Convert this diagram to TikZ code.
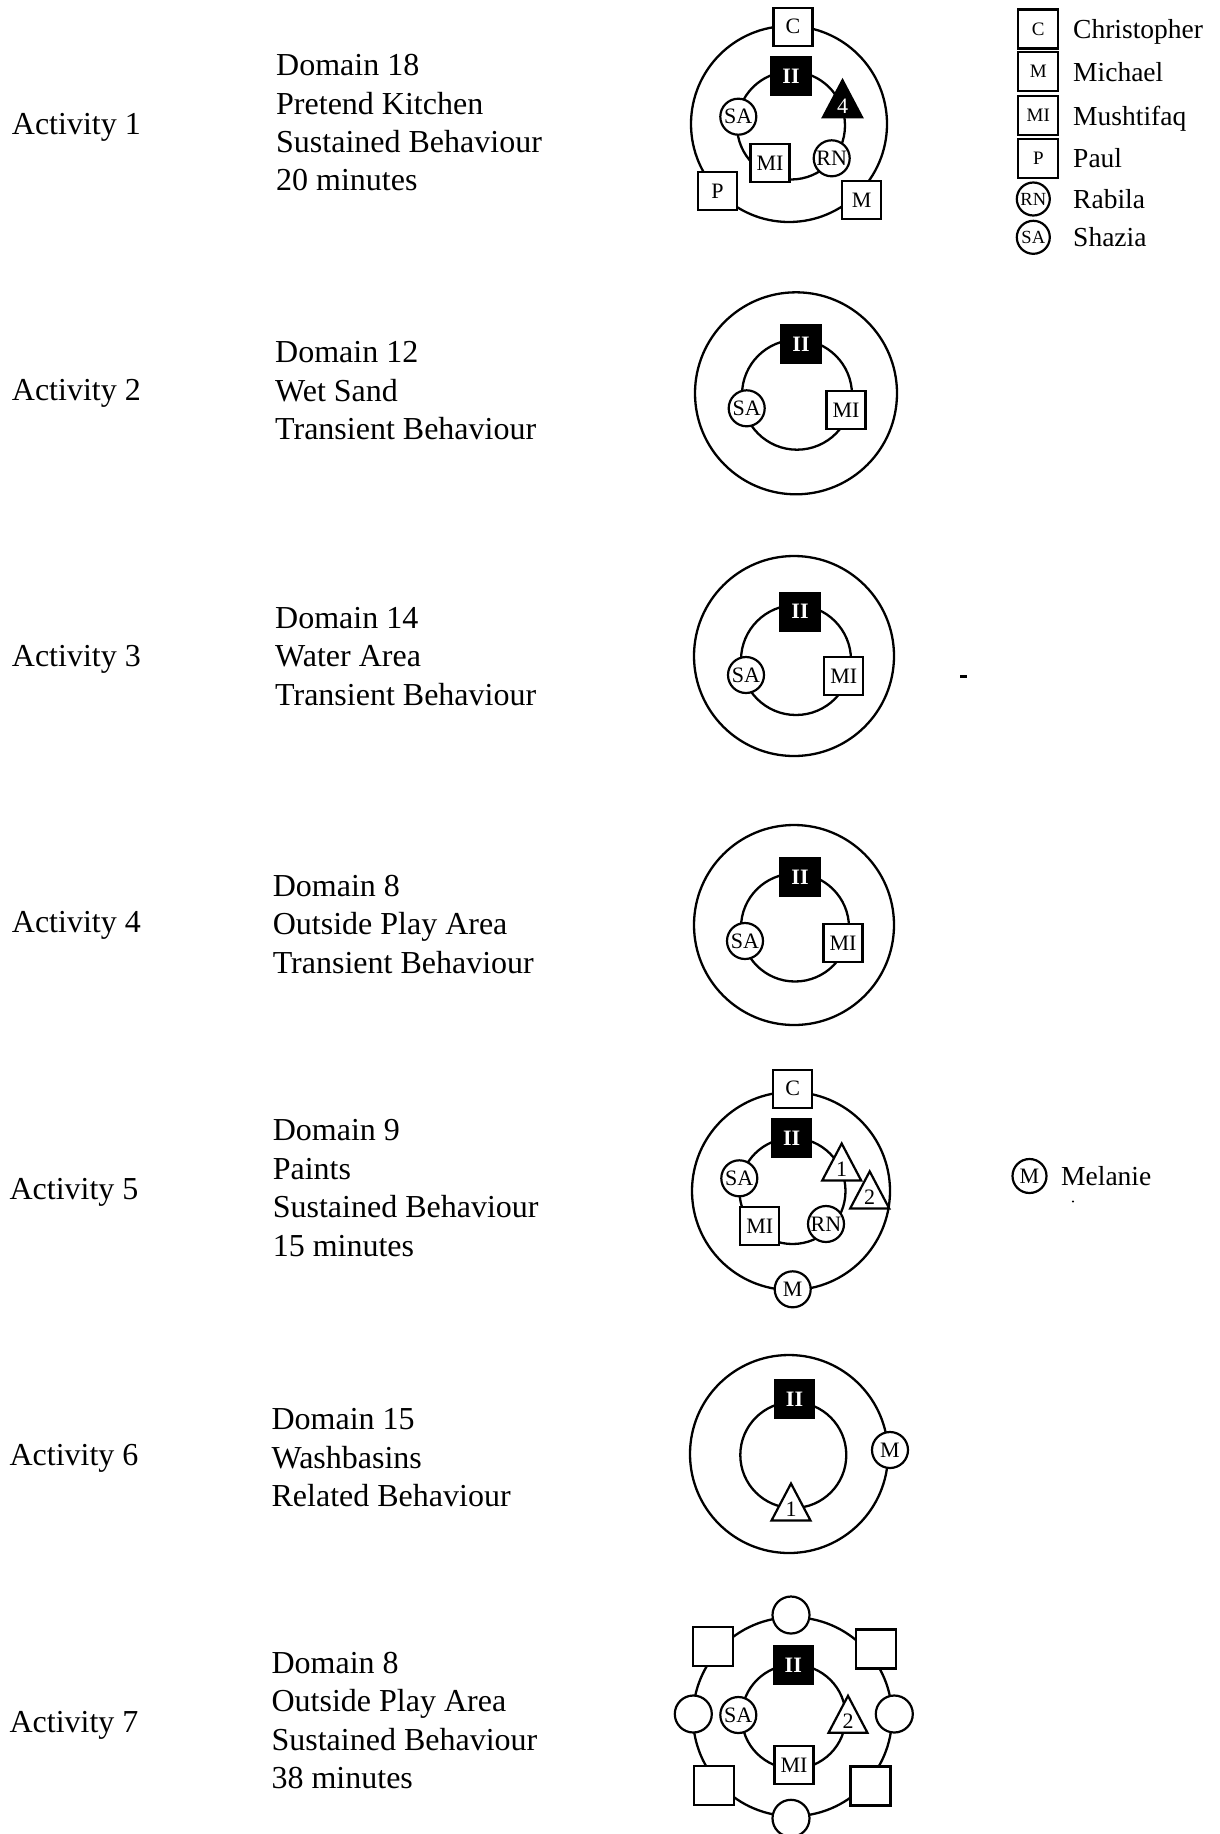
\documentclass[tikz,border=0pt]{standalone}
\usepackage{fontspec}
\setmainfont{Liberation Serif}

\tikzset{
  ring/.style={line width=2.3pt},
  kid/.style={draw, line width=2.2pt, fill=white, inner sep=0pt, font=\fontsize{22}{26}\selectfont},
  boy/.style={kid, rectangle, minimum width=39pt, minimum height=38pt},
  girl/.style={kid, circle, minimum size=36pt},
  target/.style={boy, fill=black, text=white, font=\bfseries\fontsize{22}{26}\selectfont},
  keyboy/.style={boy, minimum width=40pt, minimum height=39pt, font=\fontsize{19}{22}\selectfont},
  keygirl/.style={girl, minimum size=33pt, font=\fontsize{18.5}{22}\selectfont},
  keyname/.style={anchor=base west, inner sep=0pt, font=\fontsize{27.5}{33}\selectfont},
  actlabel/.style={anchor=base west, inner sep=0pt, font=\fontsize{32}{38.4}\selectfont},
  domtext/.style={anchor=west, inner sep=0pt, align=left, font=\fontsize{32}{38.4}\selectfont},
}

% triangle: name, x, y (centroid), fill, text colour, label
\newcommand{\trinode}[6]{%
  \filldraw[fill=#4, line width=2.2pt, line join=miter] (#2,#3) ++(0,-24.7) -- ++(19.5,37) -- ++(-39,0) -- cycle;
  \node[text=#5, inner sep=0pt, font=\fontsize{22}{26}\selectfont] (#1) at (#2,#3+1) {#6};
}

\begin{document}
\begin{tikzpicture}[x=1pt, y=-1pt]
\useasboundingbox (0,0) rectangle (1219,1834);

% key
\foreach \lab/\nm/\yy [count=\i] in {C/Christopher/29, M/Michael/71.7, MI/Mushtifaq/115.5, P/Paul/158.3} {
  \node[keyboy] (key\i) at (1038.3,\yy) {\lab};
  \node[keyname] (name\i) at (1073,\yy+9.5) {\nm};
}
\foreach \lab/\nm/\yy [count=\i from 5] in {RN/Rabila/199, SA/Shazia/237.3} {
  \node[keygirl] (key\i) at (1033.3,\yy) {\lab};
  \node[keyname] (name\i) at (1073,\yy+9.5) {\nm};
}

% activity 1
\node[actlabel] (act1) at (11.7,134.6) {Activity 1};
\node[domtext] (dom1) at (276,122.9) {Domain 18\\Pretend Kitchen\\Sustained Behaviour\\20 minutes};
\draw[ring] (789,124) circle[radius=98];
\draw[ring] (791,125.5) circle[radius=54];
\node[boy] (c1) at (793,26.7) {C};
\node[target] (ii1) at (791,76) {II};
\node[girl] (sa1) at (738.3,116.7) {SA};
\trinode{t1}{842.5}{104.9}{black}{white}{4}
\node[girl] (rn1) at (831.7,158.3) {RN};
\node[boy] (mi1) at (770,163.3) {MI};
\node[boy] (p1) at (717.5,191) {P};
\node[boy] (m1) at (861.7,200) {M};

% activity 2
\node[actlabel] (act2) at (11.7,400.2) {Activity 2};
\node[domtext] (dom2) at (275,390.8) {Domain 12\\Wet Sand\\Transient Behaviour};
\draw[ring] (796,393.3) circle[radius=101];
\draw[ring] (797,394.7) circle[radius=55];
\node[target] (ii2) at (801,344) {II};
\node[girl] (sa2) at (746.7,408.3) {SA};
\node[boy] (mi2) at (846,410) {MI};

% activity 3
\node[actlabel] (act3) at (11.7,666.9) {Activity 3};
\node[domtext] (dom3) at (275,656.4) {Domain 14\\Water Area\\Transient Behaviour};
\draw[ring] (794,656) circle[radius=100];
\draw[ring] (796,660) circle[radius=55];
\node[target] (ii3) at (800,611.7) {II};
\node[girl] (sa3) at (746,675) {SA};
\node[boy] (mi3) at (843.7,676.3) {MI};
\fill (959.5,674.5) rectangle (966.5,678);

% activity 4
\node[actlabel] (act4) at (11.7,932.5) {Activity 4};
\node[domtext] (dom4) at (272.6,924.3) {Domain 8\\Outside Play Area\\Transient Behaviour};
\draw[ring] (794,925) circle[radius=100];
\draw[ring] (795,927.5) circle[radius=54];
\node[target] (ii4) at (800,877) {II};
\node[girl] (sa4) at (745,941) {SA};
\node[boy] (mi4) at (843,942.8) {MI};

% activity 5
\node[actlabel] (act5) at (9.4,1199.3) {Activity 5};
\node[domtext] (dom5) at (272.6,1188.1) {Domain 9\\Paints\\Sustained Behaviour\\15 minutes};
\draw[ring] (791,1191) circle[radius=99];
\draw[ring] (792.5,1191) circle[radius=53];
\node[boy] (c5) at (792.7,1088.8) {C};
\node[target] (ii5) at (791.7,1137.8) {II};
\node[girl] (sa5) at (739.3,1178.3) {SA};
\trinode{t5a}{841.7}{1168.2}{white}{black}{1}
\trinode{t5b}{869.7}{1196.1}{white}{black}{2}
\node[boy] (mi5) at (759.7,1225.8) {MI};
\node[girl] (rn5) at (826,1224) {RN};
\node[girl] (m5) at (792.7,1289.3) {M};
\node[girl, minimum size=34pt] (keym) at (1029.5,1176) {M};
\node[keyname] (namem) at (1061,1185.5) {Melanie};
\fill (1073,1201.5) circle[radius=1.2];

% activity 6
\node[actlabel] (act6) at (9.4,1465.9) {Activity 6};
\node[domtext] (dom6) at (271.4,1457.8) {Domain 15\\Washbasins\\Related Behaviour};
\draw[ring] (789,1454) circle[radius=99];
\draw[ring] (793.3,1455) circle[radius=53];
\node[target] (ii6) at (794.5,1399) {II};
\node[girl] (m6) at (890,1450) {M};
\trinode{t6}{791}{1508.2}{white}{black}{1}

% activity 7
\node[actlabel] (act7) at (9.4,1732.8) {Activity 7};
\node[domtext] (dom7) at (271.4,1720.5) {Domain 8\\Outside Play Area\\Sustained Behaviour\\38 minutes};
\draw[ring] (792.5,1716.7) circle[radius=99.5];
\draw[ring] (793.7,1716.7) circle[radius=52];
\foreach \xx/\yy [count=\i] in {791/1615, 791/1818.3, 693.3/1714, 894.3/1714}
  \node[girl, minimum size=37pt] (g7\i) at (\xx,\yy) {};
\foreach \xx/\yy [count=\i] in {713.3/1646.3, 876/1649, 714/1785.5, 870.5/1786}
  \node[boy, minimum width=40pt, minimum height=39pt] (b7\i) at (\xx,\yy) {};
\node[target] (ii7) at (793.3,1665) {II};
\node[girl] (sa7) at (738.3,1715) {SA};
\trinode{t7}{848}{1720.5}{white}{black}{2}
\node[boy] (mi7) at (794,1765.3) {MI};
\end{tikzpicture}
\end{document}
